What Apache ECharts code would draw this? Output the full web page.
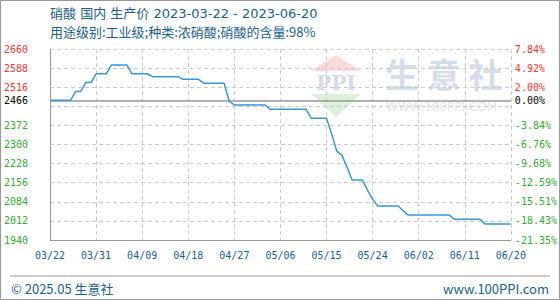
<!DOCTYPE html>
<html><head><meta charset="utf-8">
<script src="https://cdn.jsdelivr.net/npm/echarts@6/dist/echarts.min.js"></script>
<style>html,body{margin:0;padding:0;background:#fff}#c{width:560px;height:300px}</style>
</head><body><div id="c"></div>
<script>
const titleLine1 = '硝酸 国内 生产价 2023-03-22 - 2023-06-20';
const titleLine2 = '用途级别:工业级;种类:浓硝酸;硝酸的含量:98%';
const footerLeft = '© 2025.05 生意社';
const footerRight = 'www.100PPI.com';

const categories = [
 '03/22','03/23','03/24','03/25','03/26','03/27','03/28','03/29','03/30','03/31',
 '04/01','04/02','04/03','04/04','04/05','04/06','04/07','04/08','04/09','04/10',
 '04/11','04/12','04/13','04/14','04/15','04/16','04/17','04/18','04/19','04/20',
 '04/21','04/22','04/23','04/24','04/25','04/26','04/27','04/28','04/29','04/30',
 '05/01','05/02','05/03','05/04','05/05','05/06','05/07','05/08','05/09','05/10',
 '05/11','05/12','05/13','05/14','05/15','05/16','05/17','05/18','05/19','05/20',
 '05/21','05/22','05/23','05/24','05/25','05/26','05/27','05/28','05/29','05/30','05/31',
 '06/01','06/02','06/03','06/04','06/05','06/06','06/07','06/08','06/09','06/10',
 '06/11','06/12','06/13','06/14','06/15','06/16','06/17','06/18','06/19','06/20'
];

const prices = [
 2466.67,2466.67,2466.67,2466.67,2466.67,
 2500,2500,
 2533.33,2533.33,
 2566.67,2566.67,2566.67,
 2600,2600,2600,2600,
 2566.67,2566.67,2566.67,2566.67,
 2555.56,2555.56,2555.56,2555.56,2555.56,2555.56,
 2545.56,2545.56,2545.56,2545.56,
 2531,2531,2531,2531,2531,
 2463,
 2449,2449,2449,2449,2449,2449,2449,
 2433,2433,2433,2433,2433,2433,2433,2433,
 2399,2399,2399,2399,
 2340,2275,2260,2215,
 2166,2166,2166,
 2128,2094,
 2068,2068,2068,2068,2068,
 2049,
 2034,2034,2034,2034,2034,2034,2034,2034,2034,
 2018,2018,2018,2018,2018,2018,
 2000,2000,2000,2000,2000,2000
];

const baseValue = 2466.67;
const baseLabel = '2466';
const yMin = 1940, yMax = 2660;
const yTicks = [1940,2012,2084,2156,2228,2300,2372,2444,2516,2588,2660];
const yLabelValues = [1940,2012,2084,2156,2228,2300,2372,2466.67,2516,2588,2660];

const RED = '#FF3333', GREEN = '#33AA33', BLUE_TXT = '#1B5E8A';
const monoRich = {
  r: {color: RED, fontFamily: 'DejaVu Sans Mono', fontSize: 10},
  g: {color: GREEN, fontFamily: 'DejaVu Sans Mono', fontSize: 10},
  k: {color: '#000', fontFamily: 'DejaVu Sans Mono', fontSize: 10}
};
function styleKey(v){ return Math.abs(v - baseValue) < 0.01 ? 'k' : (v > baseValue ? 'r' : 'g'); }

const chart = echarts.init(document.getElementById('c'), null, {renderer: 'svg'});
chart.setOption({
  animation: false,
  backgroundColor: '#fff',
  grid: {left: 50, right: 49, top: 49, bottom: 60, containLabel: false},
  xAxis: {
    type: 'category', data: categories, boundaryGap: false,
    axisLine: {lineStyle: {color: '#999', width: 1}},
    axisTick: {show: false},
    axisLabel: {interval: 8, margin: 10, color: BLUE_TXT, fontFamily: 'DejaVu Sans Mono', fontSize: 10},
    splitLine: {show: true, interval: 8, lineStyle: {color: '#ccc', type: [4, 3]}}
  },
  yAxis: [{
    type: 'value', min: yMin, max: yMax, position: 'left',
    axisLine: {show: true, lineStyle: {color: '#999', width: 1}},
    axisTick: {show: false, customValues: yTicks},
    axisLabel: {customValues: yLabelValues, margin: 22, rich: monoRich,
      formatter: v => { const k = styleKey(v); return '{' + k + '|' + (k === 'k' ? baseLabel : Math.round(v)) + '}'; }},
    splitLine: {show: true, lineStyle: {color: '#ccc', type: [4, 3]}}
  }, {
    type: 'value', min: yMin, max: yMax, position: 'right',
    axisLine: {show: false},
    axisTick: {show: false, customValues: yTicks},
    axisLabel: {customValues: yLabelValues, margin: 4, rich: monoRich,
      formatter: v => { const k = styleKey(v); const t = k === 'k' ? '0.00%' : ((v / baseValue - 1) * 100).toFixed(2) + '%'; return '{' + k + '|' + t + '}'; }},
    splitLine: {show: false}
  }],
  series: [{
    type: 'line', data: prices, yAxisIndex: 0, showSymbol: false, symbol: 'none',
    lineStyle: {color: '#3A96D6', width: 1.5}, z: 5,
    markLine: {silent: true, symbol: 'none', label: {show: false},
      lineStyle: {color: '#999', type: 'solid', width: 1.5},
      data: [{yAxis: baseValue}]}
  }],
  graphic: [
    {type: 'rect', z: 100, shape: {x: 0.5, y: 0.5, width: 559, height: 299}, style: {fill: 'none', stroke: '#999', lineWidth: 1}},
    {type: 'text', left: 50, top: 7, style: {text: titleLine1, fill: BLUE_TXT, font: '13px "DejaVu Sans", "Noto Sans CJK SC"'}},
    {type: 'text', left: 50, top: 25, style: {text: titleLine2, fill: BLUE_TXT, font: '13px "Noto Sans CJK SC"'}},
    {type: 'polygon', z: -1, shape: {points: [[336, 55], [311, 71], [361, 71]]}, style: {fill: '#F8DADA'}},
    {type: 'text', z: -1, x: 336, y: 83, style: {text: 'PPI', fill: '#D6DBEA', font: 'bold 20px "DejaVu Serif"', align: 'center', verticalAlign: 'middle'}},
    {type: 'polygon', z: -1, shape: {points: [[311, 94], [361, 94], [336, 117]]}, style: {fill: '#DCF0DC'}},
    {type: 'text', z: -1, x: 385, y: 73, style: {text: '生 意 社', fill: '#D7DDEA', font: 'bold 34px "Noto Sans CJK SC"', verticalAlign: 'middle'}},
    {type: 'text', z: -1, x: 386, y: 107, style: {text: 'WWW.100PPI.COM', fill: '#E6E6E6', font: '12px "DejaVu Sans"', verticalAlign: 'middle'}},
    {type: 'line', shape: {x1: 10, y1: 276, x2: 550, y2: 276}, style: {stroke: '#999', lineWidth: 1}},
    {type: 'text', x: 11, y: 288, style: {text: footerLeft, fill: '#1A6090', font: '13px "Noto Sans CJK SC"', verticalAlign: 'middle'}},
    {type: 'text', x: 549, y: 288, style: {text: footerRight, fill: '#1A6090', font: '13px "Noto Sans CJK SC"', align: 'right', verticalAlign: 'middle'}}
  ]
});
</script>
</body></html>
